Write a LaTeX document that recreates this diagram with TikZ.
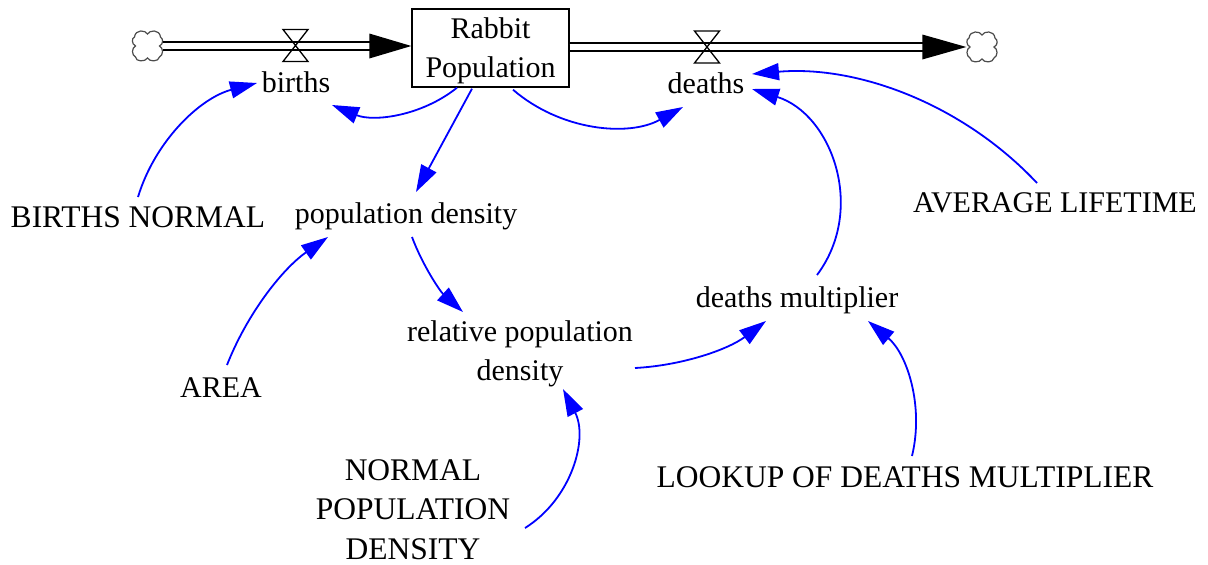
\documentclass[tikz,border=0pt]{standalone}
\usepackage{fontspec}
\setmainfont{Liberation Serif}
\usetikzlibrary{arrows.meta,calc}
\tikzset{
  cloudpic/.pic={
    \draw[cloudline] (0,-12) .. controls (2,-16) and (12,-17) .. (13,-9)
      .. controls (16,-7) and (16,-2) .. (12,0)
      .. controls (16,2) and (16,9) .. (12,11)
      .. controls (11,16) and (2,16) .. (0,12)
      .. controls (-2,16) and (-12,16) .. (-12,11)
      .. controls (-16,9) and (-16,2) .. (-12,0)
      .. controls (-16,-2) and (-16,-8) .. (-13,-9)
      .. controls (-12,-17) and (-2,-16) .. (0,-12) -- cycle;
  },
  valvepic/.pic={
    \draw[valveline] (-12.5,-16) -- (12.5,-16) -- (-12.5,16) -- (12.5,16) -- cycle;
  }
}
\begin{document}
\begin{tikzpicture}[x=1pt,y=-1pt,
  every node/.style={font=\fontsize{30}{39}\selectfont, inner sep=0pt},
  var/.style={anchor=base, align=center},
  capsvar/.style={anchor=base, align=center, font=\fontsize{31.5}{39.5}\selectfont},
  stockbox/.style={draw, line width=1.4pt, minimum width=157pt, minimum height=78pt, align=center},
  link/.style={draw=blue, line width=1.8pt, -{Triangle[length=27pt,width=17pt]}},
  pipe/.style={draw=black, line width=1.8pt, double=white, double distance=5.5pt},
  valveline/.style={draw=black, line width=1.3pt, line join=miter},
  cloudline/.style={draw=black!70, line width=1.2pt},
  cloudnode/.style={minimum size=31pt},
  flowtip/.style={fill=black}
]
\useasboundingbox[fill=white] (0,0) rectangle (1208,565);

% stock
\node[stockbox] (stock) at (490.5,48) {\rule{0pt}{26pt}Rabbit\\Population};

% clouds
\node[cloudnode] (c1) at (147.5,46) {};
\node[cloudnode] (c2) at (982,47) {};
\pic at (c1.center) {cloudpic};
\pic at (c2.center) {cloudpic};

% flows
\draw[pipe] (c1.east) -- ([xshift=-38pt]c1.east -| stock.west);
\fill[flowtip] (c1.east -| stock.west) -- ++(-42,-12.5) -- ++(0,25) -- cycle;
\draw[pipe] (stock.east |- c2.west) -- ([xshift=-40pt]c2.west);
\fill[flowtip] (c2.west) -- ++(-44,-12.5) -- ++(0,25) -- cycle;

% valves
\node[inner sep=0pt, minimum width=25pt, minimum height=32pt] (v1) at (295.5,45.5) {};
\node[inner sep=0pt, minimum width=25pt, minimum height=32pt] (v2) at (707,47) {};
\pic at (v1.center) {valvepic};
\pic at (v2.center) {valvepic};

% variables
\node[var] (births) at (296,92) {births};
\node[var] (deaths) at (706,93) {deaths};
\node[capsvar] (bn) at (138,227) {BIRTHS NORMAL};
\node[var] (popd) at (406,223) {population density};
\node[var] (avg) at (1055,212) {AVERAGE LIFETIME};
\node[var] (dm) at (797,307) {deaths multiplier};
\node[var] (rel) at (520,380) {relative population\\density};
\node[var] (area) at (221,397) {AREA};
\node[capsvar] (npd) at (413,559) {NORMAL\\POPULATION\\DENSITY};
\node[capsvar] (lookup) at (905,487) {LOOKUP OF DEATHS MULTIPLIER};

% links
\draw[link] ($(bn.base)+(0,-30)$) .. controls +(17,-56) and +(-57,15) .. ($(births.base)+(-39,-9)$);
\draw[link] ($(stock.south)+(-33.5,0)$) .. controls +(-35.3,28.3) and +(41.6,17.2) .. ($(births.base)+(36,13)$);
\draw[link] ($(stock.south)+(-18.5,1)$) -- ($(popd.base)+(10,-31)$);
\draw[link] ($(stock.south)+(22.5,2)$) .. controls +(47.4,40.9) and +(-54.8,30.2) .. ($(deaths.base)+(-23,14)$);
\draw[link] ($(avg.base)+(-18,-29)$) .. controls +(-73.2,-78) and +(106.6,-9.1) .. ($(deaths.base)+(46,-19)$);
\draw[link] ($(dm.base)+(20,-32)$) .. controls +(49.7,-66.3) and +(79.3,24.9) .. ($(deaths.base)+(46,-4)$);
\draw[link] ($(popd.base)+(6,14)$) .. controls +(10.7,28.7) and +(-22.7,-20.5) .. ($(rel.base)+(-57,-68)$);
\draw[link] ($(area.base)+(6,-32)$) .. controls +(20.3,-51.6) and +(-45.5,31.8) .. ($(popd.base)+(-78,14)$);
\draw[link] ($(rel.base)+(115,-12)$) .. controls +(47.3,-2.5) and +(-37.9,28.5) .. ($(dm.base)+(-31,14)$);
\draw[link] ($(npd.base)+(112,-31)$) .. controls +(46.9,-29.4) and +(25.4,49.3) .. ($(rel.base)+(43,9)$);
\draw[link] ($(lookup.base)+(7,-31)$) .. controls +(12.1,-49.8) and +(39.2,33) .. ($(dm.base)+(71,14)$);
\end{tikzpicture}
\end{document}
